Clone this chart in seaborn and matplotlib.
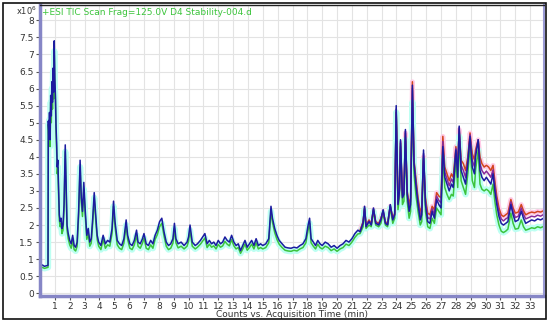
import numpy as np
import pandas as pd
import matplotlib
matplotlib.use("Agg")
import matplotlib.pyplot as plt
import seaborn as sns
from matplotlib.patches import Rectangle

# ---- data (counts x10^6 vs minutes) ----
# early part, blue and green traces overlap almost everywhere
time_a = [0.00, 0.15, 0.30, 0.45, 0.54,
          0.56, 0.60, 0.64, 0.68, 0.72, 0.76, 0.80, 0.84, 0.88, 0.92, 0.96, 1.00, 1.04, 1.08, 1.12, 1.16, 1.20,
          1.25, 1.30, 1.36, 1.42, 1.48, 1.55, 1.62, 1.70, 1.76, 1.82, 1.90,
          2.00, 2.10, 2.20, 2.30, 2.40, 2.50,
          2.60, 2.70, 2.78, 2.86, 2.95,
          3.05, 3.15, 3.25, 3.35, 3.45, 3.55, 3.65, 3.75, 3.85, 3.95,
          4.10, 4.25, 4.40, 4.55, 4.70, 4.85, 4.95,
          5.05, 5.20, 5.35, 5.50, 5.65, 5.80, 5.90,
          6.05, 6.20, 6.35, 6.50, 6.60, 6.75, 6.90,
          7.00, 7.15, 7.30, 7.45, 7.60, 7.75, 7.90,
          8.05, 8.20, 8.35, 8.50, 8.65, 8.80, 8.95,
          9.05, 9.15, 9.30, 9.50, 9.70, 9.90,
          10.00, 10.10, 10.25, 10.45, 10.60, 10.80, 10.95,
          11.10, 11.25, 11.40, 11.55, 11.70, 11.85,
          12.00, 12.15, 12.30, 12.45, 12.60, 12.75, 12.90,
          13.05, 13.20, 13.35, 13.50, 13.65, 13.80, 13.95,
          14.10, 14.25, 14.40, 14.55, 14.70, 14.85,
          15.00, 15.20, 15.40, 15.55, 15.65, 15.80, 15.95,
          16.10, 16.30, 16.50, 16.70, 16.90,
          17.10, 17.30, 17.50, 17.70, 17.90,
          18.05, 18.15, 18.25, 18.40, 18.55, 18.70, 18.85,
          19.00, 19.20, 19.40, 19.60, 19.80,
          20.00, 20.20, 20.40, 20.60, 20.80,
          21.00, 21.20, 21.40]

blue_a = [0.80, 0.83, 0.79, 0.81, 0.82,
          5.05, 4.70, 5.30, 4.50, 5.80, 5.20, 6.20, 5.60, 6.60, 5.90, 7.40, 6.30, 5.80, 4.90, 4.40, 3.70, 3.90,
          3.10, 2.30, 2.10, 2.20, 1.90, 2.00, 2.60, 4.35, 3.20, 2.00, 1.75,
          1.55, 1.45, 1.70, 1.40, 1.35, 1.50,
          2.40, 3.90, 2.80, 2.40, 3.25,
          2.40, 1.70, 1.90, 1.50, 1.60, 2.20, 2.95, 2.30, 1.70, 1.50,
          1.40, 1.70, 1.45, 1.55, 1.50, 1.90, 2.70,
          2.10, 1.55, 1.45, 1.40, 1.60, 2.15, 1.70,
          1.45, 1.40, 1.55, 1.85, 1.50, 1.45, 1.60,
          1.75, 1.45, 1.40, 1.55, 1.45, 1.70, 1.85,
          2.10, 2.20, 1.80, 1.50, 1.40, 1.45, 1.60,
          2.05, 1.60, 1.45, 1.50, 1.40, 1.50,
          1.65, 2.00, 1.50, 1.40, 1.45, 1.55, 1.65,
          1.75, 1.45, 1.55, 1.45, 1.50, 1.40,
          1.55, 1.45, 1.50, 1.65, 1.55, 1.50, 1.70,
          1.50, 1.40, 1.45, 1.25, 1.40, 1.55, 1.35,
          1.45, 1.55, 1.40, 1.60, 1.40, 1.45,
          1.40, 1.45, 1.60, 2.55, 2.20, 1.90, 1.70,
          1.55, 1.45, 1.35, 1.33, 1.32,
          1.35, 1.33, 1.40, 1.45, 1.60,
          2.00, 2.20, 1.60, 1.50, 1.40, 1.55, 1.45,
          1.40, 1.50, 1.45, 1.35, 1.40,
          1.32, 1.40, 1.45, 1.55, 1.50,
          1.60, 1.75, 1.85]

green_a = [0.74, 0.76, 0.73, 0.75, 0.76,
           4.95, 4.50, 5.10, 4.30, 5.60, 5.00, 6.00, 5.40, 6.50, 5.70, 7.10, 6.10, 5.60, 4.70, 4.20, 3.50, 3.70,
           2.90, 2.15, 1.95, 2.05, 1.75, 1.85, 2.45, 4.15, 3.00, 1.85, 1.60,
           1.42, 1.32, 1.55, 1.28, 1.24, 1.38,
           2.25, 3.70, 2.65, 2.25, 3.05,
           2.25, 1.58, 1.75, 1.38, 1.47, 2.05, 2.80, 2.15, 1.58, 1.38,
           1.28, 1.58, 1.32, 1.42, 1.38, 1.75, 2.55,
           1.95, 1.42, 1.32, 1.28, 1.47, 2.00, 1.58,
           1.32, 1.28, 1.42, 1.70, 1.38, 1.32, 1.47,
           1.62, 1.32, 1.28, 1.42, 1.32, 1.58, 1.72,
           1.95, 2.05, 1.68, 1.38, 1.28, 1.32, 1.47,
           1.90, 1.48, 1.33, 1.38, 1.30, 1.38,
           1.52, 1.85, 1.38, 1.30, 1.35, 1.44, 1.53,
           1.62, 1.34, 1.44, 1.35, 1.39, 1.30,
           1.43, 1.35, 1.39, 1.52, 1.44, 1.39, 1.57,
           1.39, 1.30, 1.34, 1.17, 1.30, 1.44, 1.26,
           1.34, 1.44, 1.30, 1.48, 1.30, 1.34,
           1.30, 1.34, 1.48, 2.40, 2.08, 1.78, 1.58,
           1.44, 1.34, 1.26, 1.24, 1.23,
           1.26, 1.24, 1.30, 1.34, 1.48,
           1.85, 2.05, 1.48, 1.38, 1.30, 1.44, 1.34,
           1.30, 1.38, 1.34, 1.25, 1.30,
           1.23, 1.30, 1.34, 1.44, 1.40,
           1.50, 1.64, 1.74]

# late part, the four injections spread apart
time_b = [21.55, 21.75, 21.85, 21.95, 22.15, 22.30, 22.45, 22.60, 22.80, 22.95,
          23.10, 23.25, 23.40, 23.58, 23.75, 23.88, 23.98, 24.10, 24.20, 24.27,
          24.40, 24.50, 24.60, 24.72, 24.85, 24.95, 25.07, 25.18, 25.30, 25.45,
          25.60, 25.70, 25.82, 25.95, 26.10, 26.25, 26.40, 26.55, 26.70, 26.85,
          27.00, 27.12, 27.25, 27.40, 27.55, 27.70, 27.82, 28.00, 28.12, 28.22,
          28.35, 28.50, 28.65, 28.80, 28.95, 29.10, 29.25, 29.32, 29.50, 29.62,
          29.75, 29.90, 30.05, 30.20, 30.35, 30.50, 30.62, 30.75, 30.90, 31.05,
          31.20, 31.35, 31.50, 31.70, 31.85, 32.00, 32.20, 32.40, 32.55, 32.70,
          32.90, 33.10, 33.30, 33.50, 33.70, 33.90]

blue_b = [1.80, 2.05, 2.55, 1.95, 2.10, 2.00, 2.50, 2.05, 2.00, 2.15,
          2.45, 2.05, 2.00, 2.60, 2.15, 2.30, 5.50, 2.60, 3.00, 4.50,
          2.80, 2.90, 4.80, 2.90, 2.40, 2.60, 6.10, 3.80, 3.20, 2.60,
          2.15, 2.30, 4.20, 2.60, 2.10, 2.05, 2.40, 2.20, 2.75, 2.60,
          2.50, 4.30, 3.40, 3.20, 3.00, 3.20, 3.10, 4.20, 3.40, 4.90,
          3.60, 3.40, 3.20, 3.80, 4.60, 3.70, 3.50, 4.00, 4.50, 3.60,
          3.40, 3.30, 3.40, 3.30, 3.20, 3.50, 3.00, 2.60, 2.25, 2.05,
          2.00, 2.05, 2.10, 2.60, 2.30, 2.10, 2.15, 2.40, 2.20, 2.05,
          2.10, 2.15, 2.12, 2.18, 2.15, 2.20]

red_b = [1.85, 2.10, 2.50, 2.00, 2.15, 2.05, 2.45, 2.10, 2.05, 2.20,
         2.40, 2.10, 2.05, 2.55, 2.20, 2.35, 5.30, 2.70, 3.10, 4.40,
         2.90, 3.00, 4.70, 3.00, 2.60, 2.80, 6.20, 3.90, 3.40, 2.80,
         2.40, 2.50, 4.00, 2.80, 2.35, 2.30, 2.55, 2.45, 2.95, 2.85,
         2.80, 4.60, 3.70, 3.50, 3.30, 3.50, 3.40, 4.30, 3.80, 4.80,
         3.90, 3.80, 3.60, 4.00, 4.70, 4.10, 3.90, 4.20, 4.50, 4.00,
         3.80, 3.70, 3.75, 3.70, 3.60, 3.75, 3.30, 2.85, 2.50, 2.30,
         2.25, 2.30, 2.35, 2.75, 2.50, 2.35, 2.38, 2.60, 2.42, 2.30,
         2.35, 2.38, 2.36, 2.40, 2.38, 2.42]

purple_b = [1.82, 2.08, 2.50, 1.98, 2.12, 2.02, 2.48, 2.08, 2.02, 2.18,
            2.42, 2.08, 2.02, 2.58, 2.18, 2.32, 5.40, 2.65, 3.05, 4.45,
            2.85, 2.95, 4.75, 2.95, 2.50, 2.70, 6.00, 3.85, 3.30, 2.70,
            2.28, 2.40, 4.10, 2.70, 2.22, 2.18, 2.48, 2.32, 2.85, 2.72,
            2.65, 4.45, 3.55, 3.35, 3.15, 3.35, 3.25, 4.25, 3.60, 4.85,
            3.75, 3.60, 3.40, 3.90, 4.65, 3.90, 3.70, 4.10, 4.50, 3.80,
            3.60, 3.50, 3.58, 3.50, 3.40, 3.62, 3.15, 2.72, 2.38, 2.18,
            2.12, 2.18, 2.22, 2.68, 2.40, 2.22, 2.26, 2.50, 2.31, 2.18,
            2.22, 2.26, 2.24, 2.29, 2.26, 2.31]

green_b = [1.75, 1.95, 2.45, 1.90, 2.00, 1.95, 2.40, 2.00, 1.95, 2.05,
           2.35, 2.00, 1.95, 2.50, 2.05, 2.20, 5.30, 2.45, 2.85, 4.30,
           2.60, 2.70, 4.50, 2.70, 2.20, 2.40, 5.60, 3.50, 2.90, 2.40,
           2.00, 2.10, 3.90, 2.40, 1.95, 1.90, 2.20, 2.05, 2.50, 2.40,
           2.30, 4.00, 3.10, 2.90, 2.75, 2.90, 2.85, 3.90, 3.10, 4.60,
           3.30, 3.10, 2.90, 3.50, 4.30, 3.30, 3.10, 3.60, 4.20, 3.20,
           3.05, 3.00, 3.05, 3.00, 2.90, 3.20, 2.70, 2.30, 2.00, 1.82,
           1.78, 1.82, 1.88, 2.35, 2.05, 1.88, 1.90, 2.15, 1.95, 1.85,
           1.88, 1.92, 1.90, 1.95, 1.92, 1.96]

x_ticks = list(range(1, 34))
y_ticks = [0, 0.5, 1, 1.5, 2, 2.5, 3, 3.5, 4, 4.5, 5, 5.5, 6, 6.5, 7, 7.5, 8]
title = "+ESI TIC Scan Frag=125.0V D4 Stability-004.d"

blue = pd.DataFrame({"t": time_a + time_b, "v": blue_a + blue_b})
green = pd.DataFrame({"t": time_a + time_b, "v": green_a + green_b})
red = pd.DataFrame({"t": time_b, "v": red_b})
purple = pd.DataFrame({"t": time_b, "v": purple_b})

sns.set_style("white")
plt.rcParams["font.family"] = ["DejaVu Sans"]

fig = plt.figure(figsize=(5.5, 3.24), dpi=100)
ax = fig.add_axes([40 / 550, 28 / 324, 504 / 550, 291 / 324])

# soft halos behind the outer traces
sns.lineplot(data=red, x="t", y="v", ax=ax, color="#ffcce8", lw=3.5, estimator=None, sort=False)
sns.lineplot(data=green, x="t", y="v", ax=ax, color="#bdfff2", lw=4.5, estimator=None, sort=False)
sns.lineplot(data=green, x="t", y="v", ax=ax, color="#3cc43c", lw=1.1, estimator=None, sort=False)
sns.lineplot(data=red, x="t", y="v", ax=ax, color="#d2451e", lw=1.1, estimator=None, sort=False)
sns.lineplot(data=purple, x="t", y="v", ax=ax, color="#8a2a9a", lw=1.1, estimator=None, sort=False)
sns.lineplot(data=blue, x="t", y="v", ax=ax, color="#1c1ca0", lw=1.1, estimator=None, sort=False)

ax.set_xlim(0, 33.93)
ax.set_ylim(-0.08, 8.45)
ax.set_xticks(x_ticks)
ax.set_xticklabels([str(x) for x in x_ticks])
ax.set_yticks(y_ticks)
ax.set_yticklabels(["%g" % y for y in y_ticks])
ax.grid(True, color="#e3e3e3", lw=0.8)
ax.set_axisbelow(True)
ax.tick_params(axis="both", length=3, width=0.8, color="#555555", labelsize=6.5,
               labelcolor="#333333", pad=1.5, bottom=True, left=True)
ax.set_xlabel("Counts vs. Acquisition Time (min)", fontsize=6.5, color="#333333", labelpad=-1)
ax.set_ylabel("")

ax.spines["left"].set_color("#8686c6")
ax.spines["left"].set_linewidth(2.5)
ax.spines["bottom"].set_color("#8686c6")
ax.spines["bottom"].set_linewidth(2.5)
ax.spines["right"].set_color("#9a9ad4")
ax.spines["right"].set_linewidth(1.5)
ax.spines["top"].set_color("#222222")
ax.spines["top"].set_linewidth(1.0)

ax.text(0.004, 0.974, title, transform=ax.transAxes, fontsize=6.5, color="#3cc43c",
        ha="left", va="center")
fig.text(16 / 550, 1 - 11 / 324, r"x10$^{6}$", fontsize=6, color="#333333", ha="left", va="center")

# black frame around the whole picture
fig.patches.append(Rectangle((3 / 550, 5 / 324), 543 / 550, 316 / 324, transform=fig.transFigure,
                             fill=False, edgecolor="#111111", lw=1.2))

fig.savefig("out.png", dpi=100)
